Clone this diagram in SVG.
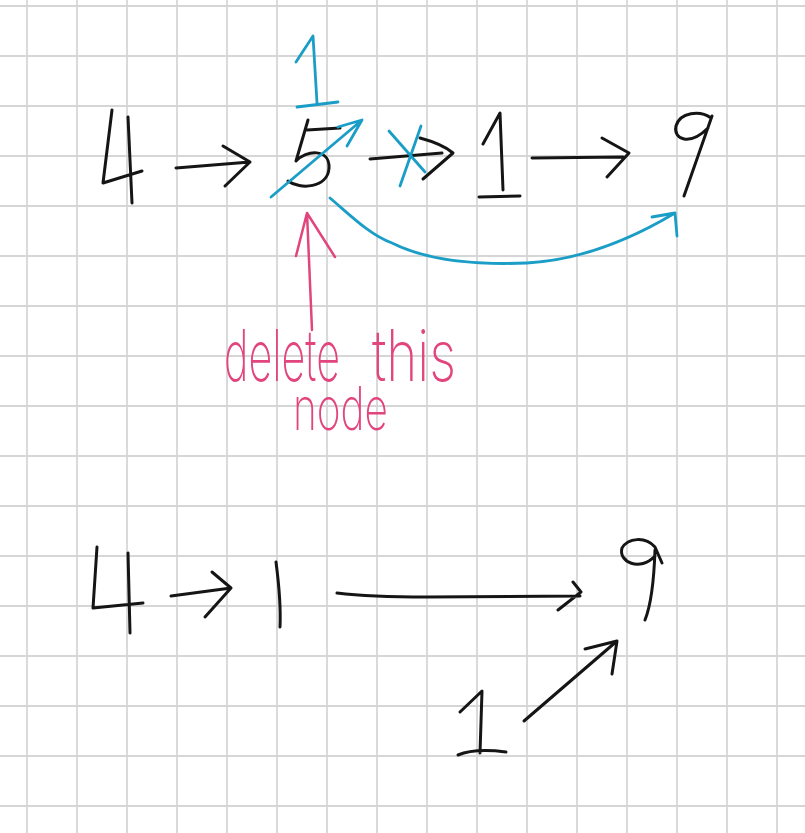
<svg xmlns="http://www.w3.org/2000/svg" width="805" height="833" viewBox="0 0 805 833">
<style>
.grid line{stroke:#d6d6d6;stroke-width:1.8}
.ink{fill:none;stroke:#151515;stroke-width:3;stroke-linecap:round;stroke-linejoin:round}
.blue{fill:none;stroke:#1a9dc6;stroke-width:2.8;stroke-linecap:round;stroke-linejoin:round}
.pink{fill:none;stroke:#e2447d;stroke-width:2.5;stroke-linecap:round;stroke-linejoin:round}
.note{fill:#e2447d;font-family:Inter,"Open Sans",sans-serif;font-weight:200}
</style>
<rect width="805" height="833" fill="#ffffff"/>
<g class="grid">
<line x1="27" y1="0" x2="27" y2="833"/><line x1="77" y1="0" x2="77" y2="833"/><line x1="127" y1="0" x2="127" y2="833"/><line x1="177" y1="0" x2="177" y2="833"/><line x1="227" y1="0" x2="227" y2="833"/><line x1="277" y1="0" x2="277" y2="833"/><line x1="327" y1="0" x2="327" y2="833"/><line x1="377" y1="0" x2="377" y2="833"/><line x1="427" y1="0" x2="427" y2="833"/><line x1="477" y1="0" x2="477" y2="833"/><line x1="527" y1="0" x2="527" y2="833"/><line x1="577" y1="0" x2="577" y2="833"/><line x1="627" y1="0" x2="627" y2="833"/><line x1="677" y1="0" x2="677" y2="833"/><line x1="727" y1="0" x2="727" y2="833"/><line x1="777" y1="0" x2="777" y2="833"/>
<line x1="0" y1="6" x2="805" y2="6"/><line x1="0" y1="56" x2="805" y2="56"/><line x1="0" y1="106" x2="805" y2="106"/><line x1="0" y1="156" x2="805" y2="156"/><line x1="0" y1="206" x2="805" y2="206"/><line x1="0" y1="256" x2="805" y2="256"/><line x1="0" y1="306" x2="805" y2="306"/><line x1="0" y1="356" x2="805" y2="356"/><line x1="0" y1="406" x2="805" y2="406"/><line x1="0" y1="456" x2="805" y2="456"/><line x1="0" y1="506" x2="805" y2="506"/><line x1="0" y1="556" x2="805" y2="556"/><line x1="0" y1="606" x2="805" y2="606"/><line x1="0" y1="656" x2="805" y2="656"/><line x1="0" y1="706" x2="805" y2="706"/><line x1="0" y1="756" x2="805" y2="756"/><line x1="0" y1="806" x2="805" y2="806"/>
</g>

<!-- top list -->
<g id="node-4-top"><path class="ink" d="M112,110 L103,183 L142,171 M128,117 L132,203"/></g>
<g id="node-5-top">
<path class="ink" d="M308,120 L296,161 C306,150 330,148 329,168 C328,188 300,190 288,181 M307,130 L340,128"/>
<path class="blue" d="M296,62 L313,36 L317,103 M297,107 L338,102"/>
</g>
<g id="node-1-top"><path class="ink" d="M483,144 L500,113 L503,190 M479,197 L520,196"/></g>
<g id="node-9-top"><path class="ink" d="M711,118 C700,110 680,112 676,126 C673,140 690,146 708,128 M712,116 L684,196"/></g>

<!-- bottom list -->
<g id="node-4-bottom"><path class="ink" d="M97,547 L93,608 L143,603 M128,553 L130,633"/></g>
<g id="node-1-bottom"><path class="ink" d="M276,562 C279,585 281,605 280,627"/></g>
<g id="node-9-bottom"><path class="ink" d="M655,547 C645,536 628,538 622,548 C618,562 640,572 655,556 M655,547 L662,563 M655,550 C654,580 651,605 645,620"/></g>
<g id="node-1-detached"><path class="ink" d="M460,712 L482,691 L480,753 M458,755 C470,750 490,750 506,752"/></g>

<g id="connectors">
<path class="ink" d="M176,168 L250,162 M223,146 L250,162 L225,186"/>
<path class="ink" d="M370,159 L442,153 M420,138 C435,142 445,146 453,153 L423,179"/>
<path class="ink" d="M532,158 L623,157 M602,138 L629,153 L607,177"/>
<path class="blue" d="M389,131 L425,172 M421,126 L400,186"/>
<path class="blue" d="M271,197 L362,120 M338,127 L362,120 L347,146"/>
<path class="blue" d="M330,198 C350,215 370,235 392,243 C430,262 480,265 527,263 C580,260 630,240 675,213 M652,217 L675,213 L677,236"/>
<path class="pink" d="M307,213 L312,330 M296,256 L307,213 L335,257"/>
<path class="ink" d="M171,596 L231,588 M212,572 L231,588 L205,617"/>
<path class="ink" d="M337,593 C370,597 400,597 427,597 L580,596 M573,582 L581,592 L558,610"/>
<path class="ink" d="M524,721 L617,641 M585,649 L617,641 L612,674"/>
</g>

<g id="label">
<text class="note" x="224" y="381" font-size="72" textLength="116" lengthAdjust="spacingAndGlyphs">delete</text>
<text class="note" x="372" y="381" font-size="72" textLength="84" lengthAdjust="spacingAndGlyphs">this</text>
<text class="note" x="293" y="430" font-size="60" textLength="95" lengthAdjust="spacingAndGlyphs">node</text>
</g>
</svg>
